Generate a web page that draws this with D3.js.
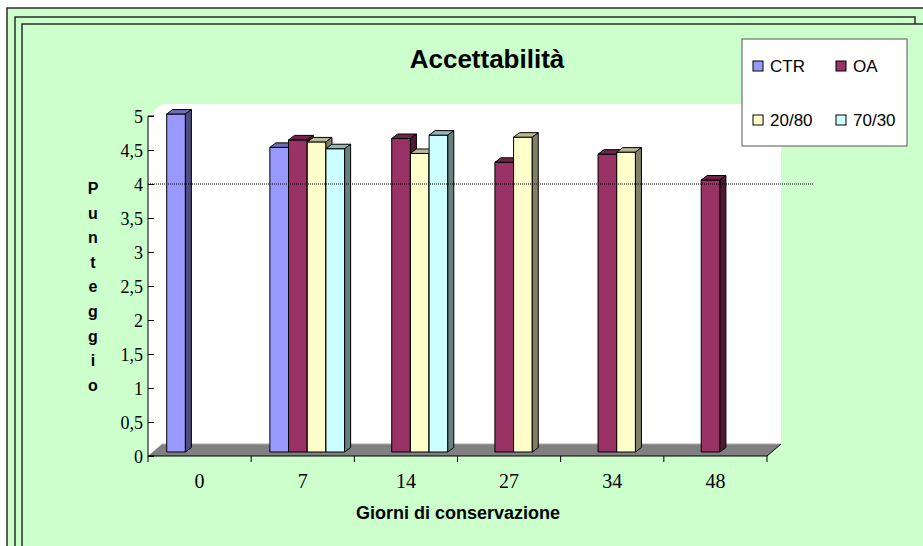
<!DOCTYPE html>
<html>
<head>
<meta charset="utf-8">
<script src="https://cdn.jsdelivr.net/npm/d3@7"></script>
<style>
  html, body { margin: 0; padding: 0; background: #ffffff; }
  svg { display: block; }
</style>
</head>
<body>
<svg id="chart" width="923" height="546"></svg>
<script>
// Storage days (categories) and panel scores per formulation
const categories = ["0", "7", "14", "27", "34", "48"];
const seriesNames = ["CTR", "OA", "20/80", "70/30"];
const ctrValues  = [4.97, 4.48, null, null, null, null];
const oaValues   = [null, 4.59, 4.61, 4.26, 4.38, 4.00];
const v2080      = [null, 4.56, 4.39, 4.63, 4.41, null];
const v7030      = [null, 4.46, 4.66, null, null, null];
const yTicks     = [0, 0.5, 1, 1.5, 2, 2.5, 3, 3.5, 4, 4.5, 5];
const refLevel   = 4;

const seriesValues = [ctrValues, oaValues, v2080, v7030];
const fills  = ["#9999FF", "#993366", "#FFFFCC", "#CCFFFF"];

const svg = d3.select("#chart");

// stacked slide-like frames
svg.append("rect").attr("x", 7).attr("y", 8).attr("width", 1000).attr("height", 1000)
  .attr("fill", "#CCFFCC").attr("stroke", "#2b2b2b").attr("stroke-width", 1.5);
svg.append("rect").attr("x", 15).attr("y", 17).attr("width", 900).attr("height", 1000)
  .attr("fill", "#CCFFCC").attr("stroke", "#2b2b2b").attr("stroke-width", 1.5);
svg.append("rect").attr("x", 22).attr("y", 24).attr("width", 1000).attr("height", 1000)
  .attr("fill", "#CCFFCC").attr("stroke", "#2b2b2b").attr("stroke-width", 1.5);

// plot geometry (front plane)
const plotLeft = 148, plotRight = 767, plotTop = 116, plotBottom = 456;
const wallDx = 14, wallDy = 12;       // depth of walls / floor
const barOffX = 4.5, barOffY = 4;     // bars sit a little behind the front plane
const barDx = 6, barDy = 4.5;         // bar depth

const x = d3.scaleBand().domain(categories).range([plotLeft, plotRight]).padding(0);
const xs = d3.scaleBand().domain(seriesNames).range([0, x.bandwidth()])
  .paddingInner(0).paddingOuter(0.76);
const y = d3.scaleLinear().domain([0, 5]).range([plotBottom, plotTop]);

// back wall + side wall
const g = svg.append("g");
g.append("path")
  .attr("d", `M${plotLeft},${y(5)} L${plotLeft + wallDx},${y(5) - wallDy} L${plotRight + wallDx},${y(5) - wallDy}
              L${plotRight + wallDx},${plotBottom - wallDy} L${plotLeft},${plotBottom} Z`)
  .attr("fill", "#ffffff");

// floor
g.append("path")
  .attr("d", `M${plotLeft},${plotBottom} L${plotLeft + wallDx},${plotBottom - wallDy} L${plotRight + wallDx},${plotBottom - wallDy} L${plotRight},${plotBottom} Z`)
  .attr("fill", "#808080");
g.append("line")
  .attr("x1", plotLeft + wallDx).attr("y1", plotBottom - wallDy)
  .attr("x2", plotRight + wallDx).attr("y2", plotBottom - wallDy)
  .attr("stroke", "#a8a8a8").attr("stroke-width", 1);
g.append("path")
  .attr("d", `M${plotLeft},${plotBottom} L${plotRight},${plotBottom} L${plotRight + wallDx},${plotBottom - wallDy}`)
  .attr("fill", "none").attr("stroke", "#000").attr("stroke-width", 1);

// bars
function shade(c, k) {
  const col = d3.rgb(c);
  return d3.rgb(col.r * k, col.g * k, col.b * k).toString();
}
const bars = g.append("g");
categories.forEach((cat, ci) => {
  seriesNames.forEach((s, si) => {
    const v = seriesValues[si][ci];
    if (v == null) return;
    const x0 = x(cat) + xs(s) + barOffX;
    const w = xs.bandwidth();
    const yt = y(v) - barOffY;
    const yb = y(0) - barOffY;
    const bg = bars.append("g").attr("stroke", "#000").attr("stroke-width", 1)
      .attr("stroke-linejoin", "round");
    bg.append("rect").attr("x", x0).attr("y", yt).attr("width", w).attr("height", yb - yt)
      .attr("fill", fills[si]);
    bg.append("path")
      .attr("d", `M${x0},${yt} L${x0 + barDx},${yt - barDy} L${x0 + w + barDx},${yt - barDy} L${x0 + w},${yt} Z`)
      .attr("fill", shade(fills[si], 0.72));
    bg.append("path")
      .attr("d", `M${x0 + w},${yt} L${x0 + w + barDx},${yt - barDy} L${x0 + w + barDx},${yb - barDy} L${x0 + w},${yb} Z`)
      .attr("fill", shade(fills[si], 0.5));
  });
});

// reference line at score 4
g.append("line")
  .attr("x1", plotLeft).attr("x2", 813)
  .attr("y1", y(refLevel)).attr("y2", y(refLevel))
  .attr("stroke", "#000").attr("stroke-width", 1).attr("stroke-dasharray", "1,1");

// y axis
const yAxis = d3.axisRight(y).tickValues(yTicks).tickSize(6)
  .tickFormat(d => String(d).replace(".", ","));
const ya = svg.append("g").attr("transform", `translate(${plotLeft},0)`).call(yAxis);
ya.select(".domain").attr("stroke", "#000").attr("d", `M6,${plotTop}H0V${plotBottom}H6`);
ya.selectAll(".tick line").attr("stroke", "#000");
ya.selectAll(".tick text")
  .attr("x", -5).attr("text-anchor", "end").attr("dy", "0.36em")
  .attr("font-family", "'Liberation Serif', 'Times New Roman', serif")
  .attr("font-size", 18).attr("fill", "#000");

// x axis
const xAxis = d3.axisBottom(x).tickSize(0).tickSizeOuter(0);
const xa = svg.append("g").attr("transform", `translate(0,${plotBottom})`).call(xAxis);
xa.select(".domain").remove();
xa.selectAll(".tick text")
  .attr("y", 18)
  .attr("font-family", "'Liberation Serif', 'Times New Roman', serif")
  .attr("font-size", 20).attr("fill", "#000");
const xTickPos = categories.map(c => x(c)).concat([plotRight]);
svg.append("g").selectAll("line").data(xTickPos).join("line")
  .attr("x1", d => d).attr("x2", d => d)
  .attr("y1", plotBottom).attr("y2", plotBottom + 6)
  .attr("stroke", "#000").attr("stroke-width", 1);

// title
svg.append("text").attr("x", 487).attr("y", 68).attr("text-anchor", "middle")
  .attr("font-family", "'Liberation Sans', Arial, sans-serif").attr("font-weight", "bold")
  .attr("font-size", 26).text("Accettabilità");

// x axis title
svg.append("text").attr("x", 458).attr("y", 519).attr("text-anchor", "middle")
  .attr("font-family", "'Liberation Sans', Arial, sans-serif").attr("font-weight", "bold")
  .attr("font-size", 18).text("Giorni di conservazione");

// y axis title, stacked letters
const yTitle = "Punteggio".split("");
svg.append("g").selectAll("text").data(yTitle).join("text")
  .attr("x", 93).attr("y", (d, i) => 194 + i * 24.6)
  .attr("text-anchor", "middle")
  .attr("font-family", "'Liberation Sans', Arial, sans-serif").attr("font-weight", "bold")
  .attr("font-size", 16).text(d => d);

// legend
const lg = svg.append("g");
lg.append("rect").attr("x", 742).attr("y", 39).attr("width", 165).attr("height", 107)
  .attr("fill", "#fff").attr("stroke", "#555").attr("stroke-width", 1);
const legendPos = [[753, 61], [836, 61], [753, 115], [836, 115]];
seriesNames.forEach((s, i) => {
  const [lx, ly] = legendPos[i];
  lg.append("rect").attr("x", lx).attr("y", ly).attr("width", 10).attr("height", 10)
    .attr("fill", fills[i]).attr("stroke", "#000").attr("stroke-width", 1);
  lg.append("text").attr("x", lx + 17).attr("y", ly + 11)
    .attr("font-family", "'Liberation Sans', Arial, sans-serif")
    .attr("font-size", 17).text(s);
});
</script>
</body>
</html>
